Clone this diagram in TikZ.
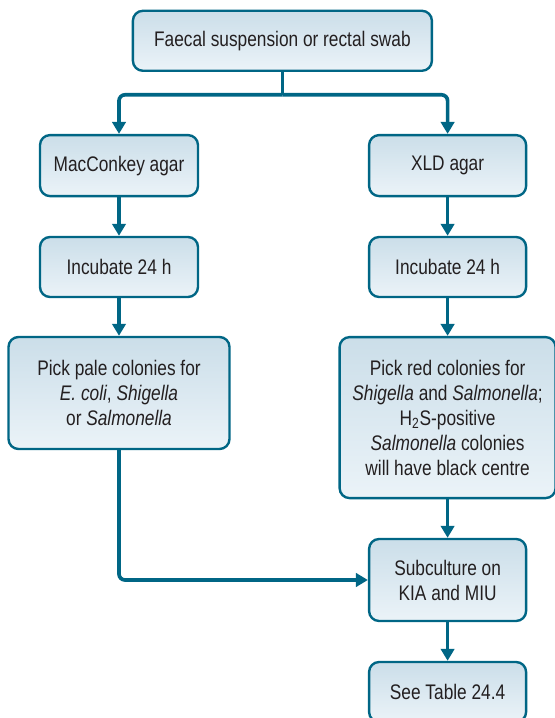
\documentclass[tikz,border=0pt]{standalone}
\usepackage{fontspec}
\setmainfont[FakeStretch=0.82]{Liberation Sans}
\usetikzlibrary{arrows.meta}
\definecolor{flowline}{RGB}{0,102,133}
\definecolor{boxtop}{RGB}{203,222,233}
\definecolor{boxbottom}{RGB}{235,243,248}
\definecolor{boxtext}{RGB}{35,31,32}
\tikzset{
  flowbox/.style={draw=flowline, line width=1.7pt, rounded corners=0.25cm,
    top color=boxtop, bottom color=boxbottom, text=boxtext, align=center,
    font=\fontsize{15}{17.8}\selectfont, inner sep=0pt},
  flowstem/.style={draw=flowline, line width=2.6pt, rounded corners=0.15cm},
  flowarrow/.style={flowstem, -{Triangle[length=8.5pt,width=9.5pt]}}
}
\begin{document}
\begin{tikzpicture}
\useasboundingbox (0,0) rectangle (13.85,17.95);
% top
\node[flowbox, minimum width=7.475cm, minimum height=1.5cm] (src) at(7.06, 16.93)
       {Faecal suspension or rectal swab};
\coordinate (split) at(7.06, 15.58);
% left column
\node[flowbox, minimum width=3.95cm, minimum height=1.525cm] (mac) at(2.975, 13.81)
       {MacConkey agar};
\node[flowbox, minimum width=3.95cm, minimum height=1.5cm] (incl) at(2.975, 11.275)
       {Incubate 24 h};
\node[flowbox, minimum width=5.525cm, minimum height=2.8cm] (pale) at(2.975, 8.125)
       {Pick pale colonies for\\ \textit{E. coli}, \textit{Shigella}\\ or \textit{Salmonella}};
% right column
\node[flowbox, minimum width=3.925cm, minimum height=1.525cm] (xld) at(11.19, 13.81)
       {XLD agar};
\node[flowbox, minimum width=3.925cm, minimum height=1.5cm] (incr) at(11.19, 11.275)
       {Incubate 24 h};
\node[flowbox, minimum width=5.4cm, minimum height=4.025cm] (red) at(11.19, 7.51)
       {Pick red colonies for\\ \textit{Shigella} and \textit{Salmonella};\\
        H\textsubscript{2}S-positive\\ \textit{Salmonella} colonies\\ will have black centre};
\node[flowbox, minimum width=3.925cm, minimum height=2.05cm] (sub) at(11.19, 3.45)
       {Subculture on\\ KIA and MIU};
\node[flowbox, minimum width=3.925cm, minimum height=1.5cm] (tab) at(11.19, 0.65)
       {See Table 24.4};
% connectors
\draw[flowstem] (src.south) -- (split);
\draw[flowarrow] (split) -| (mac.north);
\draw[flowarrow] (split) -| (xld.north);
\draw[flowarrow] (mac) -- (incl);
\draw[flowarrow] (incl) -- (pale);
\draw[flowarrow] (xld) -- (incr);
\draw[flowarrow] (incr) -- (red);
\draw[flowarrow] (red) -- (sub);
\draw[flowarrow] (pale.south) |- (sub.west);
\draw[flowarrow] (sub) -- (tab);
\end{tikzpicture}
\end{document}
